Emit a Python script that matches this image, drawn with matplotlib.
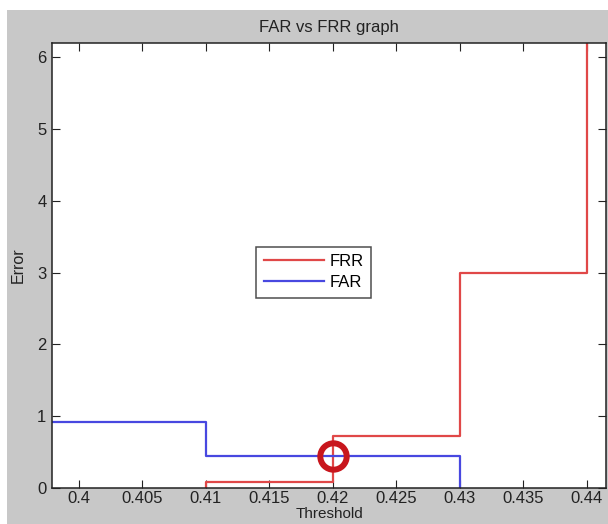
import numpy as np
import matplotlib
matplotlib.use('Agg')
import matplotlib.pyplot as plt
from matplotlib.patches import Rectangle

plt.rcParams['font.family'] = ['Liberation Sans', 'DejaVu Sans']

# Дані
frr_x = [0.41, 0.41, 0.42, 0.43, 0.44, 0.4415]
frr_y = [0.0, 0.08, 0.72, 3.0, 7.0, 7.0]
far_x = [0.3979, 0.41, 0.43, 0.43]
far_y = [0.92, 0.45, 0.0, 0.0]
eer_x = [0.42]
eer_y = [0.45]
x_ticks = [0.4, 0.405, 0.41, 0.415, 0.42, 0.425, 0.43, 0.435, 0.44]
x_labels = ['0.4', '0.405', '0.41', '0.415', '0.42', '0.425', '0.43', '0.435', '0.44']
y_ticks = [0, 1, 2, 3, 4, 5, 6]

fig = plt.figure(figsize=(6.08, 5.24), dpi=100)
fig.patch.set_facecolor('white')
# сірий фон як у MATLAB
fig.patches.append(Rectangle((7 / 608, 0), 1, 1 - 10 / 524, transform=fig.transFigure,
                             facecolor='#c8c8c8', edgecolor='none', zorder=-10))

ax = fig.add_axes([52 / 608, 1 - 488 / 524, (606 - 52) / 608, (488 - 43) / 524])
ax.set_facecolor('white')

ax.step(frr_x, frr_y, where='post', color='#e04848', lw=1.6, label='FRR')
ax.step(far_x, far_y, where='post', color='#4848e0', lw=1.6, label='FAR')
ax.plot(eer_x, eer_y, 'o', mfc='none', mec='#c8161d', ms=19, mew=4.3)

ax.set_xlim(0.3979, 0.4415)
ax.set_ylim(0, 6.2)
ax.set_xticks(x_ticks)
ax.set_xticklabels(x_labels)
ax.set_yticks(y_ticks)
ax.tick_params(direction='in', length=6, top=True, right=True, labelsize=12, colors='#222222',
               pad=4)
ax.tick_params(axis='x', pad=2)
for s in ax.spines.values():
    s.set_color('#222222')
    s.set_linewidth(1.1)

ax.set_title('FAR vs FRR graph', fontsize=12, color='#222222', pad=8)
ax.set_xlabel('Threshold', fontsize=11, color='#222222', labelpad=1)
ax.set_ylabel('Error', fontsize=11.5, color='#222222', labelpad=8)

leg = ax.legend(loc='center', bbox_to_anchor=(0.472, 0.485), fontsize=12, frameon=True,
                fancybox=False, edgecolor='#222222', handlelength=3.6, borderpad=0.45,
                labelspacing=0.35, handletextpad=0.35)
leg.get_frame().set_linewidth(1.1)

fig.savefig('out.png', dpi=100)
